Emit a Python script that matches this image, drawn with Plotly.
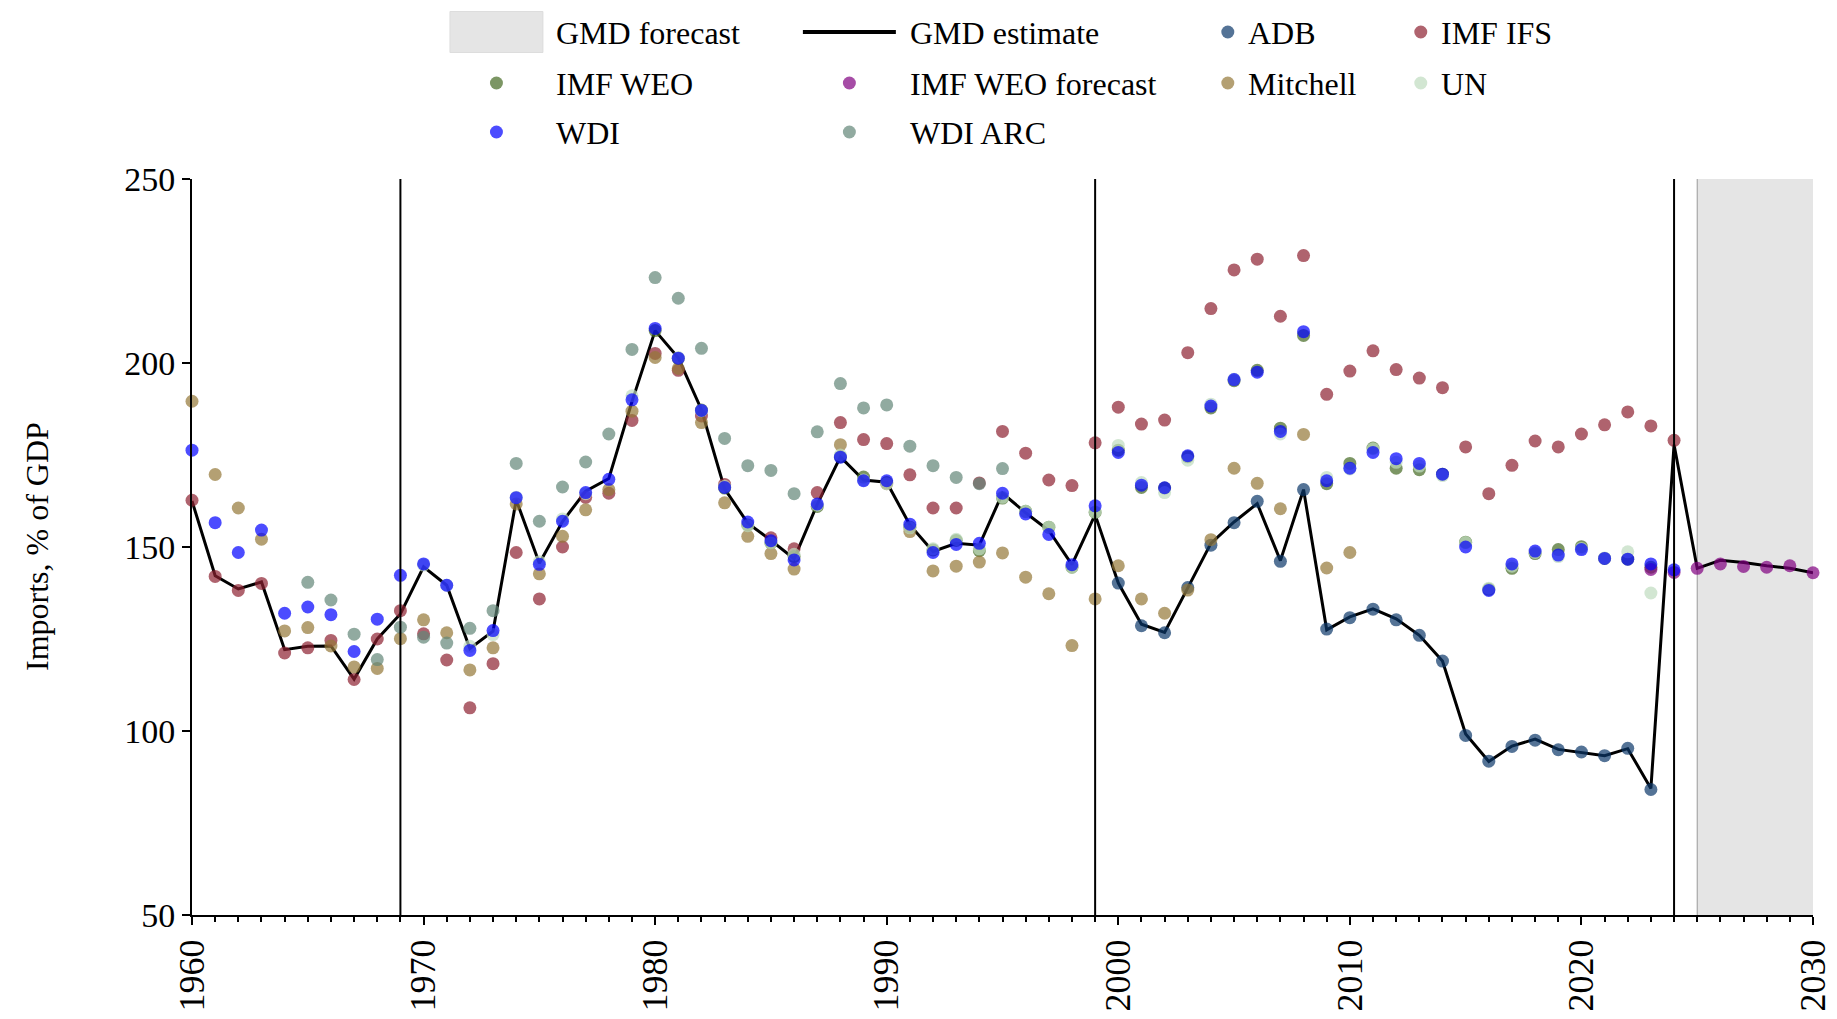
import plotly.graph_objects as go

# ---------------- data ----------------
gmd_years = list(range(1960, 2031))
gmd_estimate = [162.5, 142.2, 138.6, 140.5, 122.1, 123.0, 123.1, 114.1, 125.0, 131.8,
                144.6, 139.6, 122.4, 127.1, 162.8, 145.6, 156.9, 165.2, 168.6, 189.5,
                208.8, 201.4, 187.3, 165.8, 156.5, 151.8, 146.8, 161.6, 174.5, 168.2,
                167.6, 156.0, 148.8, 151.0, 150.5, 164.6, 159.3, 154.5, 145.2, 158.8,
                140.2, 129.0, 126.8, 138.8, 151.0, 156.8, 161.8, 146.3, 165.6, 127.5,
                131.0, 133.2, 130.5, 126.0, 119.0, 99.2, 91.7, 95.9, 97.8, 95.0,
                94.1, 93.3, 95.2, 84.4, 177.8, 144.2, 146.4, 145.8, 144.9, 144.2,
                143.0]

adb_years = list(range(2000, 2024))
adb = [140.2, 128.6, 126.7, 139.0, 150.5, 156.6, 162.4, 146.1, 165.6, 127.7,
       130.8, 133.1, 130.2, 126.0, 119.0, 98.8, 91.8, 95.8, 97.5, 94.9,
       94.3, 93.3, 95.3, 84.1]

ifs_years = list(range(1960, 2025))
imf_ifs = [162.7, 142.0, 138.2, 140.1, 121.2, 122.6, 124.6, 114.0, 125.0, 132.7,
           126.4, 119.3, 106.3, 118.3, 148.5, 135.9, 150.0, 163.5, 164.6, 184.4,
           202.6, 198.0, 185.6, 167.0, None, 152.5, 149.5, 164.8, 183.8, 179.2,
           178.1, 169.6, 160.6, 160.6, 167.4, 181.4, 175.5, 168.2, 166.7, 178.3,
           188.0, 183.4, 184.5, 202.8, 214.8, 225.3, 228.2, 212.7, 229.2, 191.5,
           197.8, 203.3, 198.2, 195.9, 193.3, 177.2, 164.5, 172.2, 178.8, 177.2,
           180.7, 183.2, 186.7, 182.9, 179.0]

weo_years = list(range(1980, 2024))
imf_weo = [208.8, 201.2, 187.2, 166.0, 156.0, 151.1, 147.4, 161.0, 174.5, 169.0,
           167.5, 155.4, 149.2, 151.8, 149.0, 163.3, 159.7, 155.4, 144.5, 159.4,
           176.3, 166.2, 166.0, 174.5, 187.8, 195.2, 198.0, 182.3, 207.5, 167.2,
           172.7, 176.9, 171.4, 171.0, 169.8, 151.3, 138.5, 144.2, 148.2, 149.3,
           150.1, 146.9, 146.7, 144.5]

weo_fc_years = list(range(2023, 2031))
imf_weo_forecast = [143.9, 143.1, 144.2, 145.4, 144.7, 144.5, 144.9, 143.0]

mitchell_years = list(range(1960, 2011))
mitchell = [189.6, 169.7, 160.6, 152.1, 127.2, 128.1, 123.1, 117.4, 117.0, 125.1,
            130.2, 126.7, 116.6, 122.6, 161.7, 142.7, 152.9, 160.1, 165.6, 186.9,
            201.5, 198.5, 183.8, 162.0, 152.9, 148.2, 144.0, None, 177.8, None,
            167.2, 154.2, 143.5, 144.8, 145.9, 148.4, 141.8, 137.3, 123.2, 135.9,
            144.9, 135.9, 132.0, 138.3, 152.0, 171.4, 167.3, 160.4, 180.6, 144.3,
            148.5]

un_years = list(range(1970, 2024))
un = [145.1, 139.6, 123.0, 126.2, 163.5, 146.0, 157.6, 164.5, None, 191.1,
      None, 201.5, 187.0, 166.5, 155.8, 151.1, 148.0, 161.4, 175.0, 168.2,
      167.2, 155.2, 149.5, 152.1, 149.5, 163.5, 159.7, 155.4, 144.5, 159.5,
      177.6, 167.5, 164.8, 173.6, 188.8, 195.6, None, 180.7, None, 168.9,
      171.2, 176.7, 173.0, 172.0, 169.4, 151.2, 138.8, 144.8, 148.5, 147.4,
      149.6, 147.0, 148.7, 137.5]

wdi_years = list(range(1960, 2025))
wdi = [176.3, 156.6, 148.5, 154.6, 132.0, 133.7, 131.6, 121.6, 130.4, 142.3,
       145.4, 139.6, 121.9, 127.3, 163.4, 145.3, 157.0, 164.8, 168.4, 190.0,
       209.4, 201.3, 187.1, 166.2, 156.8, 151.7, 146.5, 161.7, 174.4, 168.0,
       168.0, 156.2, 148.5, 150.7, 151.0, 164.6, 159.0, 153.4, 145.2, 161.2,
       175.7, 166.8, 166.1, 174.8, 188.3, 195.5, 197.5, 181.4, 208.5, 168.0,
       171.4, 175.7, 174.0, 172.7, 169.8, 150.0, 138.2, 145.4, 148.9, 147.8,
       149.3, 146.9, 146.7, 145.4, 143.8]

wdi_arc_years = list(range(1965, 1996))
wdi_arc = [140.4, 135.6, 126.3, 119.4, 128.2, 125.5, 123.9, 127.9, 132.7, 172.7,
           157.0, 166.3, 173.1, 180.7, 203.7, 223.2, 217.6, 204.0, 179.5, 172.1,
           170.8, 164.5, 181.3, 194.4, 187.8, 188.6, 177.4, 172.1, 168.9, 167.2,
           171.3]

event_years = [1969, 1999, 2024]
forecast_start, forecast_end = 2025, 2030
x_ticks = [1960, 1970, 1980, 1990, 2000, 2010, 2020, 2030]
y_ticks = [50, 100, 150, 200, 250]

# ---------------- styling / geometry ----------------
FONT = "Liberation Serif"
OFF = 8                      # default body margin of the html page
W, H = 1837 - OFF, 1019 - OFF
X0, X1 = 192.0, 1813.3       # plot area in page pixels
Y0, Y1 = 179.0, 915.0
ML = X0 - OFF
MR = (W + OFF) - X1
MT = Y0 - OFF
MB = (H + OFF) - Y1

colors = {
    "ADB": "rgba(12,55,105,0.7)",
    "IMF IFS": "rgba(141,33,48,0.7)",
    "IMF WEO": "rgba(69,105,34,0.7)",
    "IMF WEO forecast": "rgba(128,0,128,0.7)",
    "Mitchell": "rgba(148,119,55,0.7)",
    "UN": "rgba(191,219,191,0.7)",
    "WDI": "rgba(0,0,255,0.7)",
    "WDI ARC": "rgba(98,134,119,0.7)",
}

series = [
    ("ADB", adb_years, adb),
    ("IMF IFS", ifs_years, imf_ifs),
    ("IMF WEO", weo_years, imf_weo),
    ("IMF WEO forecast", weo_fc_years, imf_weo_forecast),
    ("Mitchell", mitchell_years, mitchell),
    ("UN", un_years, un),
    ("WDI", wdi_years, wdi),
    ("WDI ARC", wdi_arc_years, wdi_arc),
]

fig = go.Figure()

fig.add_trace(go.Scatter(x=gmd_years, y=gmd_estimate, mode="lines", name="GMD estimate",
                         line=dict(color="black", width=3), cliponaxis=False, showlegend=False))

for name, xs, ys in series:
    fig.add_trace(go.Scatter(x=xs, y=ys, mode="markers", name=name,
                             marker=dict(color=colors[name], size=13, line=dict(width=0)),
                             cliponaxis=False, showlegend=False))

shapes = []
shapes.append(dict(type="rect", xref="x", yref="paper", x0=forecast_start, x1=forecast_end,
                   y0=0, y1=1, fillcolor="#e5e5e5", line=dict(width=0), layer="below"))
shapes.append(dict(type="line", xref="x", yref="paper", x0=forecast_start, x1=forecast_start,
                   y0=0, y1=1, line=dict(color="#999999", width=1), layer="below"))
for ev in event_years:
    shapes.append(dict(type="line", xref="x", yref="paper", x0=ev, x1=ev, y0=0, y1=1,
                       line=dict(color="black", width=2)))


def px(xp):
    return (xp - X0) / (X1 - X0)


def py(yp):
    return (Y1 - yp) / (Y1 - Y0)


annotations = []
rows = [32, 83, 132]
legend_items = [
    ("box", "GMD forecast", 496.5, 554, 0),
    ("line", "GMD estimate", 849.5, 908, 0),
    ("dot", "ADB", 1228, 1246, 0),
    ("dot", "IMF IFS", 1421, 1439, 0),
    ("dot", "IMF WEO", 496.5, 554, 1),
    ("dot", "IMF WEO forecast", 849.5, 908, 1),
    ("dot", "Mitchell", 1228, 1246, 1),
    ("dot", "UN", 1421, 1439, 1),
    ("dot", "WDI", 496.5, 554, 2),
    ("dot", "WDI ARC", 849.5, 908, 2),
]
for kind, name, sx, tx, r in legend_items:
    yc = rows[r]
    if kind == "box":
        shapes.append(dict(type="rect", xref="paper", yref="paper",
                           x0=px(sx - 46.5), x1=px(sx + 46.5), y0=py(yc + 20.5), y1=py(yc - 20.5),
                           fillcolor="#e5e5e5", line=dict(color="#dddddd", width=1)))
    elif kind == "line":
        shapes.append(dict(type="line", xref="paper", yref="paper",
                           x0=px(sx - 46.5), x1=px(sx + 46.5), y0=py(yc), y1=py(yc),
                           line=dict(color="black", width=4)))
    else:
        shapes.append(dict(type="circle", xref="paper", yref="paper",
                           xsizemode="pixel", ysizemode="pixel",
                           xanchor=px(sx), yanchor=py(yc),
                           x0=-6.5, x1=6.5, y0=-6.5, y1=6.5,
                           fillcolor=colors[name], line=dict(width=0)))
    annotations.append(dict(text=name, xref="paper", yref="paper", x=px(tx), y=py(yc + 1),
                            xanchor="left", yanchor="middle", showarrow=False,
                            font=dict(family=FONT, size=32, color="black")))

annotations.append(dict(text="Imports, % of GDP", xref="paper", yref="paper",
                        x=px(37), y=0.5, xanchor="center", yanchor="middle",
                        textangle=-90, showarrow=False,
                        font=dict(family=FONT, size=32, color="black")))

fig.update_layout(
    width=W, height=H,
    margin=dict(l=ML, r=MR, t=MT, b=MB, autoexpand=False),
    plot_bgcolor="white", paper_bgcolor="white",
    font=dict(family=FONT, size=34, color="black"),
    showlegend=False,
    shapes=shapes,
    annotations=annotations,
)

fig.update_xaxes(range=[1960, 2030], tickmode="array", tickvals=x_ticks,
                 ticktext=[str(t) for t in x_ticks], tickangle=-90,
                 tickfont=dict(family=FONT, size=36, color="black"),
                 ticks="outside", ticklen=8, tickwidth=2, tickcolor="black",
                 showline=True, linecolor="black", linewidth=2,
                 showgrid=False, zeroline=False, automargin=False,
                 minor=dict(dtick=1, tick0=1960, ticks="outside", ticklen=5,
                            tickwidth=1.5, tickcolor="black", showgrid=False))
fig.update_yaxes(range=[50, 250], tickmode="array", tickvals=y_ticks,
                 tickfont=dict(family=FONT, size=34, color="black"),
                 ticks="outside", ticklen=8, tickwidth=2, tickcolor="black",
                 showline=True, linecolor="black", linewidth=2,
                 showgrid=False, zeroline=False, automargin=False)

fig.write_html("out.html")
